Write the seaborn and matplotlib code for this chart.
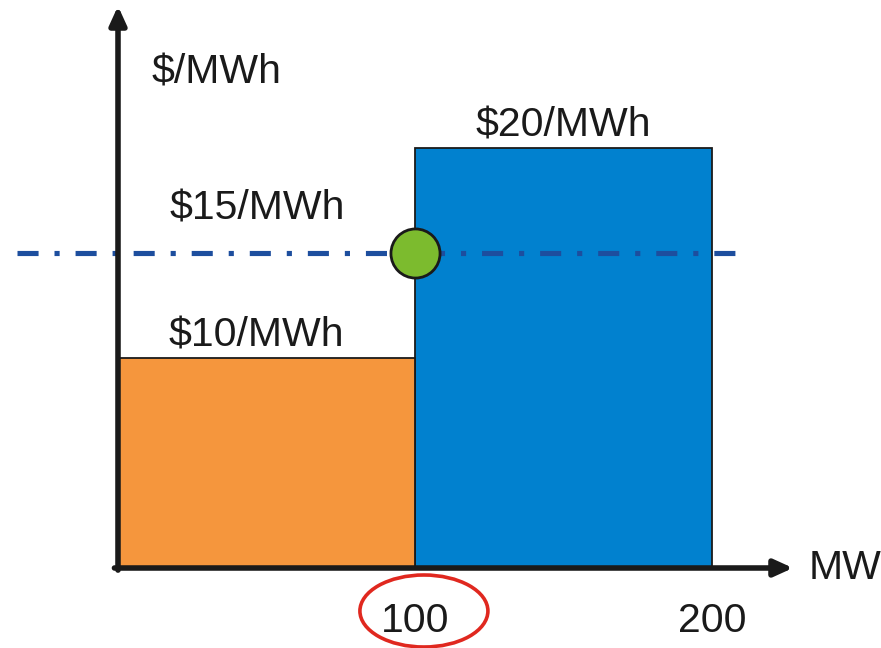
import matplotlib
matplotlib.use("Agg")
import matplotlib.pyplot as plt
from matplotlib.patches import Ellipse
import pandas as pd
import seaborn as sns

# --- data -------------------------------------------------------------
offer_names = ["Unit A", "Unit B"]
offer_mw_from = [0, 100]
offer_mw_to = [100, 200]
offer_prices = [10, 20]              # $/MWh
offer_labels = ["$10/MWh", "$20/MWh"]
clearing_mw = 100
clearing_price = 15
clearing_label = "$15/MWh"
tick_values = [100, 200]
tick_labels = ["100", "200"]
x_title = "MW"
y_title = "$/MWh"

# --- styling ------------------------------------------------------------
ORANGE = "#F5963D"
BLUE = "#0181CF"
GREEN = "#7CBB2E"
DASH_BLUE = "#1D4E9E"
RED = "#E0281F"
INK = "#1A1A1A"
FONT = ["Liberation Sans", "DejaVu Sans"]
FS = 29.5

W, H = 881, 648
X0_PX, Y0_PX = 118, 568          # where the axes cross, in figure pixels
PX_PER_MW = 2.97
PX_PER_USD = 21.0

sns.set_theme(style="white")
plt.rcParams["font.family"] = FONT

fig = plt.figure(figsize=(W / 100, H / 100), dpi=100)
ax = fig.add_axes([0, 0, 1, 1])

# offer blocks as weighted histogram bins
edges = [offer_mw_from[0]] + offer_mw_to
df = pd.DataFrame({
    "mw": [(a + b) / 2 for a, b in zip(offer_mw_from, offer_mw_to)],
    "price": offer_prices,
    "unit": offer_names,
})
sns.histplot(data=df, x="mw", weights="price", hue="unit", bins=edges,
             palette=[ORANGE, BLUE], alpha=1, edgecolor=INK, linewidth=1.3,
             legend=False, ax=ax, zorder=2)

xlim = (-X0_PX / PX_PER_MW, (W - X0_PX) / PX_PER_MW)
ylim = (-(H - Y0_PX) / PX_PER_USD, Y0_PX / PX_PER_USD)

# clearing price line
line_from = -101 / PX_PER_MW
line_to = (745 - X0_PX) / PX_PER_MW
sns.lineplot(x=[line_from, line_to], y=[clearing_price, clearing_price],
             color=DASH_BLUE, lw=3.7, linestyle=(0, (4.1, 3.1, 1, 3.1)),
             ax=ax, zorder=3)

# axes with arrow heads
x_tip = (793 - X0_PX) / PX_PER_MW
y_tip = Y0_PX / PX_PER_USD - 6 / PX_PER_USD
arrow = dict(arrowstyle="-|>,head_length=0.55,head_width=0.25", lw=4,
             color=INK, shrinkA=0, shrinkB=0, mutation_scale=20)
ax.annotate("", xy=(x_tip, 0), xytext=(-1.2, 0), arrowprops=arrow,
            zorder=4)
ax.annotate("", xy=(0, y_tip), xytext=(0, -0.1), arrowprops=arrow,
            zorder=4)

# clearing point
sns.scatterplot(x=[clearing_mw], y=[clearing_price], s=1250, color=GREEN,
                edgecolor=INK, linewidth=2.0, ax=ax, zorder=5)

txt = dict(fontsize=FS, color=INK, family=FONT, textcoords="offset points")
ax.annotate(offer_labels[0], (df["mw"][0], offer_prices[0]), xytext=(-7, 8),
            ha="center", va="baseline", **txt)
ax.annotate(offer_labels[1], (df["mw"][1], offer_prices[1]), xytext=(0, 8),
            ha="center", va="baseline", **txt)
ax.annotate(clearing_label, (df["mw"][0], clearing_price), xytext=(-7, 24),
            ha="center", va="baseline", **txt)

for v, lab in zip(tick_values, tick_labels):
    ax.annotate(lab, (v, 0), xytext=(0, -46), ha="center", va="baseline",
                **txt)

ax.annotate(x_title, (x_tip, 0), xytext=(11, -8), ha="left", va="baseline",
            **txt)
ax.annotate(y_title, (0, y_tip), xytext=(24, -55.5), ha="left", va="baseline",
            **txt)

# highlight the clearing quantity
ax.add_patch(Ellipse((clearing_mw + 3, -43 / PX_PER_USD),
                     width=128 / PX_PER_MW, height=72 / PX_PER_USD,
                     fill=False, edgecolor=RED, lw=2.6, clip_on=False,
                     zorder=6))

ax.set_xlim(*xlim)
ax.set_ylim(*ylim)
ax.axis("off")

fig.savefig("out.png", dpi=100)
